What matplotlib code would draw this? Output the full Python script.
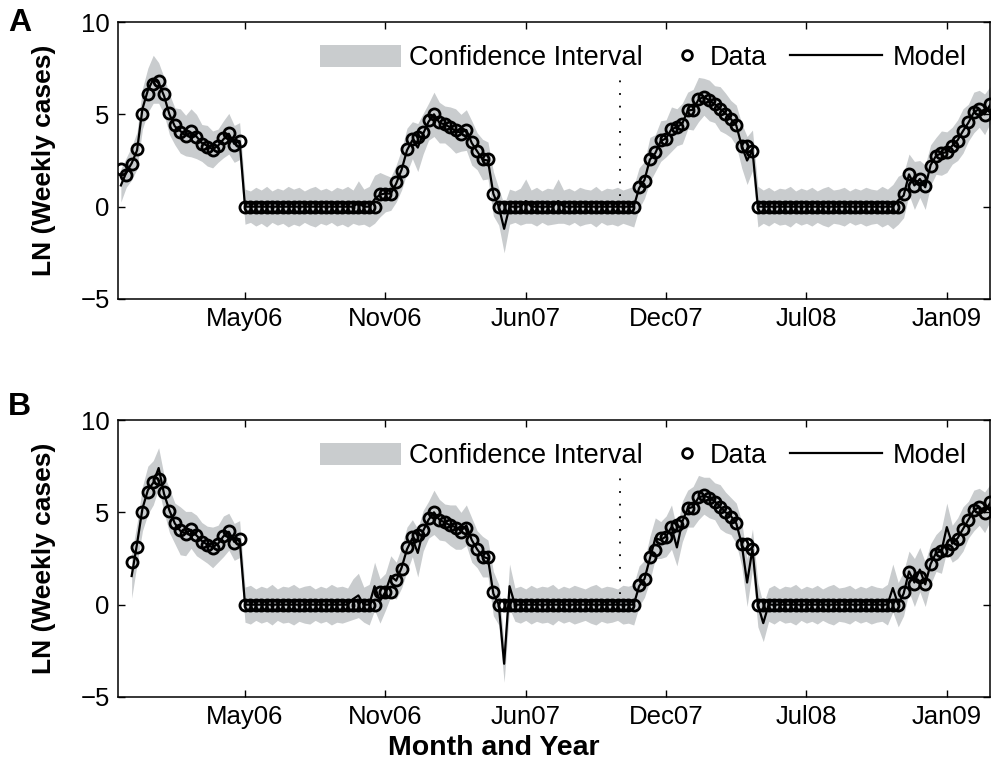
import numpy as np
import matplotlib.pyplot as plt
from matplotlib.patches import Patch
from matplotlib.lines import Line2D
from matplotlib.legend import Legend

plt.rcParams['font.family'] = ['Liberation Sans', 'DejaVu Sans']

weeks = np.arange(1, 163)
tick_weeks = [24, 50, 76, 102, 128, 154]
tick_labels = ['May06', 'Nov06', 'Jun07', 'Dec07', 'Jul08', 'Jan09']
cutoff_week = 93.5

# LN(weekly cases), weeks 1-162
cases = [
    2.05, 1.70, 2.30, 3.10, 5.00, 6.10, 6.65, 6.78, 6.10, 5.05, 4.40, 4.05,
    3.80, 4.10, 3.75, 3.40, 3.25, 3.05, 3.30, 3.70, 4.00, 3.35, 3.55,
    0, 0, 0, 0, 0, 0, 0, 0, 0, 0, 0, 0, 0, 0, 0, 0, 0, 0, 0, 0, 0, 0, 0, 0, 0,
    0.69, 0.69, 0.69, 1.32, 1.95, 3.13, 3.68, 3.77, 4.04, 4.67, 5.04, 4.58,
    4.49, 4.31, 4.13, 3.95, 4.13, 3.49, 3.04, 2.59, 2.59, 0.69,
    0, 0, 0, 0, 0, 0, 0, 0, 0, 0, 0, 0, 0, 0, 0, 0, 0, 0, 0, 0, 0, 0, 0, 0, 0, 0,
    1.05, 1.41, 2.59, 2.95, 3.59, 3.68, 4.22, 4.31, 4.49, 5.22, 5.22, 5.85,
    5.94, 5.76, 5.58, 5.31, 5.04, 4.77, 4.40, 3.31, 3.31, 3.04,
    0, 0, 0, 0, 0, 0, 0, 0, 0, 0, 0, 0, 0, 0, 0, 0, 0, 0, 0, 0, 0, 0, 0, 0, 0, 0, 0,
    0.69, 1.79, 1.10, 1.50, 1.10, 2.20, 2.77, 2.89, 2.94, 3.30, 3.58, 4.11,
    4.60, 5.10, 5.30, 4.95, 5.55,
]

# panel A model, weeks 1-162
model_a = [
    1.15, 1.85, 2.35, 3.05, 5.30, 6.30, 6.90, 6.70, 6.00, 5.00, 4.35, 4.10,
    3.85, 4.00, 3.80, 3.45, 3.30, 3.10, 3.30, 3.65, 3.95, 3.40, 3.55,
    0, 0, 0, 0, 0, 0, 0, 0, 0, 0, 0, 0, 0, 0, 0, 0, 0, 0, 0, 0, 0, 0.2, 0, 0, 0.4,
    0.65, 0.72, 0.70, 1.25, 2.00, 3.05, 3.60, 3.20, 3.95, 4.60, 5.00, 4.55,
    4.45, 4.30, 4.10, 4.00, 4.15, 3.45, 3.00, 2.55, 2.50, 0.70,
    0, -1.2, 0, 0, 0, 0.3, 0, 0, 0, 0, 0, 0.3, 0, 0, 0, 0, 0, 0, 0, 0, 0, 0, 0, 0, 0, 0,
    1.00, 1.45, 2.55, 2.90, 3.55, 3.70, 4.20, 4.30, 4.50, 5.20, 5.25, 5.80,
    5.95, 5.75, 5.55, 5.30, 5.05, 4.75, 4.40, 3.30, 2.50, 3.05,
    0, 0, 0, 0, 0, 0, 0, 0, 0, 0, 0, 0, 0, 0, 0, 0, 0, 0, 0, 0, 0, 0, 0, 0, 0, 0, 0.35,
    0.60, 1.75, 1.15, 1.50, 1.05, 2.25, 2.75, 2.90, 2.95, 3.30, 3.60, 4.10,
    4.55, 5.10, 5.30, 5.00, 5.50,
]

ci_half_a = [
    0.9, 0.8, 0.9, 1.0, 1.1, 1.2, 1.3, 1.1, 1.0, 1.1, 1.0, 1.2, 1.1, 1.3, 1.2,
    1.0, 1.1, 1.0, 0.9, 1.0, 1.1, 1.0, 1.0,
    0.95, 0.85, 1.05, 0.9, 1.1, 0.85, 1.0, 0.9, 1.1, 0.95, 1.05, 0.85, 1.0,
    1.1, 0.9, 1.0, 0.85, 1.05, 0.95, 1.1, 0.9, 1.2, 0.95, 1.1, 1.3,
    1.2, 1.0, 0.9, 1.0, 1.1, 1.2, 1.0, 1.3, 1.1, 1.0, 1.2, 1.1, 1.0, 1.1, 1.2,
    1.0, 1.1, 1.2, 1.0, 1.1, 1.0, 1.2,
    1.0, 1.3, 0.95, 0.85, 1.0, 1.2, 0.9, 1.05, 0.85, 1.0, 0.95, 1.2, 0.9, 1.0,
    0.85, 1.05, 0.95, 0.9, 1.1, 0.85, 1.0, 0.95, 1.05, 0.9, 1.0, 1.1,
    1.1, 1.0, 1.2, 1.0, 1.1, 1.0, 1.2, 1.0, 1.1, 1.0, 1.1, 1.2, 1.0, 1.1, 1.0,
    1.2, 1.1, 1.0, 1.1, 1.2, 1.3, 1.1,
    1.1, 0.9, 1.05, 0.85, 1.0, 0.95, 1.1, 0.85, 1.0, 0.9, 1.05, 0.85, 1.0, 1.1,
    0.9, 0.95, 1.05, 0.85, 1.0, 0.9, 1.05, 0.95, 0.9, 1.1, 0.95, 1.2, 1.3,
    1.2, 1.1, 1.3, 1.0, 1.2, 1.1, 1.0, 1.2, 1.1, 1.0, 1.1, 1.2, 1.0, 1.1, 1.0,
    1.1, 1.0,
]

# panel B model, weeks 3-162
model_b = [
    1.55, 3.30, 5.20, 6.20, 6.60, 7.40, 6.00, 5.10, 4.40, 4.00, 3.85, 4.05,
    3.75, 3.45, 3.25, 3.10, 3.30, 3.70, 3.95, 3.40, 3.55,
    0, 0, 0, 0, 0, 0, 0, 0, 0, 0, 0, 0, 0, 0, 0, 0, 0, 0, 0, 0, 0.3, 0.5, 0, 0, 1.0,
    0.20, 0.69, 1.55, 1.30, 2.00, 3.00, 3.60, 2.80, 4.00, 4.60, 5.00, 4.60,
    4.45, 4.30, 4.20, 4.00, 4.30, 3.50, 3.00, 2.60, 2.50, 0.60,
    0, -3.2, 1.0, 0, 0, 0, 0, 0, 0, 0, 0, 0, 0, 0, 0, 0, 0, 0, 0, 0, 0, 0, 0, 0, 0, 0,
    1.00, 1.40, 2.50, 3.60, 3.50, 3.70, 4.20, 3.10, 4.50, 5.20, 5.30, 5.80,
    5.90, 5.80, 5.60, 5.30, 5.00, 4.80, 4.40, 3.30, 1.20, 3.00,
    0, -1.0, 0, 0, 0, 0, 0, 0, 0, 0, 0, 0, 0, 0, 0, 0, 0, 0, 0, 0, 0, 0, 0, 0, 0, 0.9, 0,
    0.60, 1.80, 1.20, 1.90, 1.10, 2.20, 2.80, 2.90, 4.20, 3.30, 3.60, 4.10,
    4.60, 5.10, 5.30, 5.00, 5.50,
]

ci_half_b = [
    1.2, 1.1, 1.2, 1.3, 1.2, 1.1, 1.0, 1.2, 1.1, 1.3, 1.2, 1.0, 1.1, 1.0, 1.0,
    1.1, 1.0, 1.1, 1.0, 1.0, 1.0,
    0.95, 1.05, 0.85, 1.0, 0.9, 1.1, 0.85, 1.0, 0.95, 1.1, 0.9, 1.0, 1.05,
    0.85, 1.0, 0.9, 1.1, 0.95, 1.0, 0.9, 1.1, 1.2, 0.95, 1.1, 1.3,
    1.2, 1.0, 1.1, 1.0, 1.1, 1.2, 1.0, 1.3, 1.1, 1.0, 1.2, 1.1, 1.0, 1.1, 1.2,
    1.0, 1.1, 1.2, 1.0, 1.1, 1.0, 1.2,
    1.1, 1.0, 1.2, 0.9, 1.0, 0.85, 1.05, 0.9, 1.0, 0.95, 1.1, 0.85, 1.0, 0.9,
    1.05, 0.95, 0.85, 1.0, 1.1, 0.9, 1.0, 0.95, 0.85, 1.05, 1.0, 1.1,
    1.1, 1.0, 1.2, 1.1, 1.0, 1.1, 1.2, 1.0, 1.1, 1.0, 1.1, 1.2, 1.0, 1.1, 1.0,
    1.2, 1.1, 1.0, 1.1, 1.2, 1.3, 1.1,
    1.2, 1.0, 0.9, 1.05, 0.85, 1.0, 0.95, 1.1, 0.85, 1.0, 0.9, 1.05, 0.85, 1.0,
    1.1, 0.9, 0.95, 1.05, 0.85, 1.0, 0.9, 1.05, 0.95, 0.9, 1.1, 1.3, 1.2,
    1.2, 1.1, 1.3, 1.2, 1.2, 1.1, 1.0, 1.2, 1.3, 1.0, 1.1, 1.2, 1.0, 1.1, 1.0,
    1.1, 1.0,
]

band_color = '#c9ccce'
W, H = 992, 766


def legend_item(ax, handle, label, x, hlen, pad):
    leg = Legend(ax, [handle], [label], loc='center left', bbox_to_anchor=(x, 0.870),
                 frameon=False, fontsize=19.5, handlelength=hlen, handleheight=0.9,
                 handletextpad=pad, borderpad=0, borderaxespad=0)
    ax.add_artist(leg)


def draw_panel(ax, x, obs, model, half, letter, ypix):
    model = np.array(model)
    half = np.array(half)
    ax.fill_between(x, model - half, model + half, color=band_color, lw=0, zorder=1)
    ax.plot(x, model, color='k', lw=1.6, zorder=3)
    ax.plot(x, obs, ls='none', marker='o', ms=8, mfc='none', mec='k', mew=2.0, zorder=4)
    ax.vlines(cutoff_week, 0.6, 7.2, colors='k', linestyles=(0, (1, 6)), lw=1.3, zorder=2)

    ax.set_xlim(0.47, 162.0)
    ax.set_ylim(-5, 10)
    ax.set_xticks(tick_weeks)
    ax.set_xticklabels(tick_labels)
    ax.set_yticks([-5, 0, 5, 10])
    ax.tick_params(direction='in', top=True, right=True, length=5, width=1,
                   labelsize=18.5, pad=6)
    for s in ax.spines.values():
        s.set_linewidth(1.1)
    ax.set_ylabel('LN (Weekly cases)', fontsize=19, fontweight='bold')
    ax.yaxis.set_label_coords(-0.071, 0.5)

    legend_item(ax, Patch(facecolor=band_color, edgecolor='none'), 'Confidence Interval',
                0.2317, 3.0, 0.3)
    legend_item(ax, Line2D([], [], ls='none', marker='o', ms=7, mfc='none', mec='k', mew=2.0),
                'Data', 0.6365, 1.0, 0.34)
    legend_item(ax, Line2D([], [], color='k', lw=1.6), 'Model', 0.7706, 3.4, 0.38)

    fig.text(8 / W, 1 - ypix / H, letter, fontsize=23, fontweight='bold', va='top', ha='left')


fig = plt.figure(figsize=(W / 100, H / 100), dpi=100)
ax_a = fig.add_axes([118 / W, 1 - 299 / H, 872 / W, 277 / H])
ax_b = fig.add_axes([118 / W, 1 - 697 / H, 872 / W, 277 / H])

draw_panel(ax_a, weeks, cases, model_a, ci_half_a, 'A', 8)
draw_panel(ax_b, weeks[2:], cases[2:], model_b, ci_half_b, 'B', 392)

fig.text(494 / W, 1 - 748 / H, 'Month and Year', fontsize=20.5, fontweight='bold',
         ha='center', va='center')

fig.savefig('out.png', dpi=100)
